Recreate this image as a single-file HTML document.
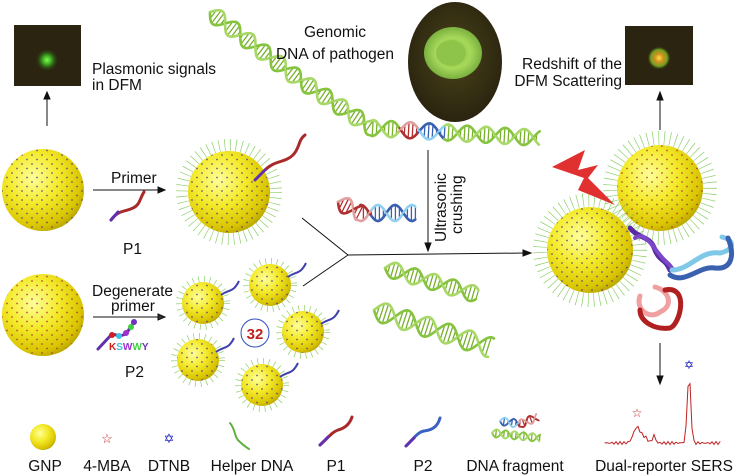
<!DOCTYPE html>
<html><head><meta charset="utf-8"><style>
html,body{margin:0;padding:0;background:#fff;}
svg{display:block;font-family:"Liberation Sans",Arial,sans-serif;}
</style></head><body>
<svg id="s" width="737" height="476" viewBox="0 0 737 476" xmlns="http://www.w3.org/2000/svg">
<defs>
<radialGradient id="gold" cx="0.38" cy="0.35" r="0.7">
<stop offset="0" stop-color="#ffff9a"/><stop offset="0.45" stop-color="#f4ea2a"/><stop offset="0.85" stop-color="#d9c400"/><stop offset="1" stop-color="#b8a400"/></radialGradient>
<pattern id="dotsB" width="10" height="9" patternUnits="userSpaceOnUse"><circle cx="2" cy="2" r="0.9" fill="#4a3b7a"/><circle cx="7" cy="6.5" r="0.9" fill="#4a3b7a"/></pattern>
<pattern id="dotsR" width="10" height="9" patternUnits="userSpaceOnUse"><circle cx="2" cy="2" r="0.9" fill="#a03030"/><circle cx="7" cy="6.5" r="0.9" fill="#a03030"/></pattern>
<radialGradient id="spotG" cx="0.5" cy="0.5" r="0.5"><stop offset="0" stop-color="#7dff50"/><stop offset="0.4" stop-color="#3aa020"/><stop offset="1" stop-color="#2a2410" stop-opacity="0"/></radialGradient>
<radialGradient id="spotY" cx="0.5" cy="0.5" r="0.5"><stop offset="0" stop-color="#ffe040"/><stop offset="0.35" stop-color="#d09020"/><stop offset="0.7" stop-color="#70a020"/><stop offset="1" stop-color="#2a2410" stop-opacity="0"/></radialGradient>
<radialGradient id="kiwi" cx="0.5" cy="0.45" r="0.55"><stop offset="0" stop-color="#4a4418"/><stop offset="1" stop-color="#2a2410"/></radialGradient>
<radialGradient id="kiwiIn" cx="0.5" cy="0.5" r="0.5"><stop offset="0" stop-color="#8ac040"/><stop offset="0.6" stop-color="#a6d85a"/><stop offset="1" stop-color="#7ab040"/></radialGradient>
</defs>
<g id="helices"></g>

<rect x="14" y="25" width="67" height="61" fill="#2a2410"/>
<circle cx="47" cy="60" r="12" fill="url(#spotG)"/>
<rect x="625" y="26" width="68" height="59" fill="#2a2410"/>
<circle cx="659" cy="58" r="12" fill="url(#spotY)"/>

<g font-size="15.5" fill="#111">
<text x="92" y="74">Plasmonic signals</text>
<text x="92" y="90">in DFM</text>
<text x="335" y="37" text-anchor="middle">Genomic</text>
<text x="335" y="59" text-anchor="middle">DNA of pathogen</text>
<text x="622" y="69" text-anchor="end">Redshift of the</text>
<text x="622" y="86" text-anchor="end">DFM Scattering</text>
<text x="111" y="183">Primer</text>
<text x="123" y="254">P1</text>
<text x="92" y="296">Degenerate</text>
<text x="111" y="311">primer</text>
<text x="125" y="377">P2</text>
<text transform="translate(446,242) rotate(-90)">Ultrasonic</text>
<text transform="translate(462,234) rotate(-90)">crushing</text>
<text x="45" y="471" text-anchor="middle">GNP</text>
<text x="107" y="471" text-anchor="middle">4-MBA</text>
<text x="169" y="471" text-anchor="middle">DTNB</text>
<text x="252" y="471" text-anchor="middle">Helper DNA</text>
<text x="336" y="471" text-anchor="middle">P1</text>
<text x="423" y="471" text-anchor="middle">P2</text>
<text x="515" y="471" text-anchor="middle">DNA fragment</text>
<text x="664" y="471" text-anchor="middle">Dual-reporter SERS</text>
</g>

<ellipse cx="455" cy="62" rx="47" ry="60" fill="url(#kiwi)"/>
<ellipse cx="453" cy="53" rx="29" ry="26" fill="url(#kiwiIn)"/>
<ellipse cx="451" cy="53" rx="15" ry="13" fill="#8fc44a"/>

<g stroke="#111" stroke-width="1" fill="#111">
<line x1="47" y1="126" x2="47" y2="97"/><path d="M44,99 L47,92 L50,99Z"/>
<line x1="93" y1="190" x2="160" y2="190"/><path d="M158,187 L165,190 L158,193Z"/>
<line x1="93" y1="317" x2="160" y2="317"/><path d="M158,314 L165,317 L158,320Z" fill="#333"/>
<line x1="302" y1="218" x2="348" y2="255" fill="none"/>
<line x1="303" y1="286" x2="348" y2="255" fill="none"/>
<line x1="348" y1="255" x2="525" y2="253"/><path d="M523,250 L531,253 L523,256Z"/>
<line x1="428" y1="150" x2="428" y2="244"/><path d="M425,243 L428,251 L431,243Z"/>
<line x1="660" y1="130" x2="660" y2="98"/><path d="M657,100 L660,92 L663,100Z"/>
<line x1="660" y1="343" x2="660" y2="377"/><path d="M657,376 L660,384 L663,376Z"/>
</g>

<circle cx="255" cy="333" r="14" fill="none" stroke="#3050c0" stroke-width="1"/>
<text x="255" y="339" font-size="15" font-weight="bold" fill="#c02020" text-anchor="middle">32</text>

<g id="spheres"></g>

<path d="M552,167 L585,150 L578,170 L598,165 L588,178 L615,205 L578,190 L584,178 Z" fill="#e03030"/>

<g fill="none" stroke-linecap="round">
<path d="M630,228 C640,240 650,235 655,250 C660,262 665,258 670,270" stroke="#5a2aa0" stroke-width="5"/>
<path d="M635,238 C645,230 655,250 660,255 C665,262 668,262 672,268" stroke="#7a48c8" stroke-width="4"/>
<path d="M672,270 C690,270 700,250 720,253 C735,250 735,240 722,237" stroke="#80c8e8" stroke-width="5"/>
<path d="M670,275 C685,285 700,265 715,268 C732,270 735,255 728,238" stroke="#3a60b0" stroke-width="5"/>
<path d="M640,296 C635,310 650,320 660,312 C675,305 668,290 655,287" stroke="#f0a0a0" stroke-width="5"/>
<path d="M665,290 C690,285 680,325 670,328 C655,330 640,322 640,310" stroke="#b02020" stroke-width="5"/>
</g>

<g fill="none" stroke-linecap="round">
<path d="M111,220 C118,210 125,212 133,208 C140,205 140,198 144,192" stroke="#a82a2a" stroke-width="3"/>
<path d="M111,220 L118,212" stroke="#6030b0" stroke-width="3"/>
<path d="M265,170 C275,160 285,163 293,155 C300,148 298,140 305,135" stroke="#a82a2a" stroke-width="3"/>
<path d="M255,180 L265,170" stroke="#6030b0" stroke-width="3"/>
<path d="M98,349 L112,334 L120,336 L126,334 L132,325 L134,322" stroke="#6030b0" stroke-width="3"/>
<circle cx="112" cy="335" r="3" fill="#d02020"/><circle cx="119" cy="336" r="3" fill="#40c0e0"/><circle cx="126" cy="333" r="3" fill="#a030d0"/><circle cx="131" cy="327" r="3" fill="#40d040"/><circle cx="134" cy="322" r="3" fill="#7030c0"/>
<text x="109" y="350" font-size="10" font-weight="bold"><tspan fill="#d02020">K</tspan><tspan fill="#40c0e0">S</tspan><tspan fill="#a030d0">W</tspan><tspan fill="#40d040">W</tspan><tspan fill="#7030c0">Y</tspan></text>
<path d="M230,423 C236,430 234,438 240,442 C244,446 246,447 249,449" stroke="#60b040" stroke-width="2"/>
<path d="M320,445 C328,438 332,432 338,430 C346,428 350,423 352,417" stroke="#a82a2a" stroke-width="3"/>
<path d="M320,445 L328,437" stroke="#6030b0" stroke-width="3"/>
<path d="M406,446 C414,438 418,432 424,431 C434,430 438,425 440,418" stroke="#3a60c0" stroke-width="3"/>
<path d="M406,446 L414,438" stroke="#6030b0" stroke-width="3"/>
<path id="spec" d="" stroke="#c02020" stroke-width="1"/>
</g>
<circle cx="43" cy="437" r="13" fill="url(#gold)"/>
<text x="107" y="443" font-size="13" fill="#c02020" text-anchor="middle">☆</text>
<text x="169" y="443" font-size="13" fill="#2020c0" text-anchor="middle">✡</text>
<text x="637" y="417" font-size="12" fill="#c02020" text-anchor="middle">☆</text>
<text x="689" y="369" font-size="12" fill="#2020c0" text-anchor="middle">✡</text>
</svg>
<script>
var NS="http://www.w3.org/2000/svg";
function el(p,t,a){var e=document.createElementNS(NS,t);for(var k in a)e.setAttribute(k,a[k]);p.appendChild(e);return e;}
var H=document.getElementById('helices');
function helix(pts,amp,per,segs,sw){
 sw=sw||2.5;
 var L=[],tot=0;for(var i=1;i<pts.length;i++){var d=Math.hypot(pts[i][0]-pts[i-1][0],pts[i][1]-pts[i-1][1]);L.push(d);tot+=d;}
 var s1=[],s2=[],cs=[],k=0;
 for(var s=0;s<=tot;s+=1){var acc=0,j=0;while(j<L.length-1&&acc+L[j]<s){acc+=L[j];j++;}
  var f=(s-acc)/L[j];var x=pts[j][0]+(pts[j+1][0]-pts[j][0])*f,y=pts[j][1]+(pts[j+1][1]-pts[j][1])*f;
  var ux=(pts[j+1][0]-pts[j][0])/L[j],uy=(pts[j+1][1]-pts[j][1])/L[j];var nx=-uy,ny=ux;
  var w=amp*Math.sin(2*Math.PI*s/per);
  var a=[x+nx*w,y+ny*w],b=[x-nx*w,y-ny*w];s1.push(a);s2.push(b);
  var c=segs(s/tot);cs.push(c);
  if(k%4==0&&Math.abs(w)>amp*0.3)el(H,'line',{x1:a[0],y1:a[1],x2:b[0],y2:b[1],stroke:c[1],'stroke-width':1.3});
  k++;
 }
 for(var i=1;i<s1.length;i++){var c=cs[i];
  el(H,'line',{x1:s1[i-1][0],y1:s1[i-1][1],x2:s1[i][0],y2:s1[i][1],stroke:c[0],'stroke-width':sw,'stroke-linecap':'round'});
  el(H,'line',{x1:s2[i-1][0],y1:s2[i-1][1],x2:s2[i][0],y2:s2[i][1],stroke:c[2]||c[0],'stroke-width':sw,'stroke-linecap':'round'});}
}
var G=function(){return ['#86c440','#7ab030','#a8d868'];};
helix([[210,12],[300,80],[372,128],[540,138]],8,38,function(t){
 if(t>0.62&&t<0.67)return['#b03030','#b03030','#e0a0a0']; if(t>0.67&&t<0.74)return['#3a60b0','#3a60b0','#90d0f0'];return G();});
helix([[338,202],[360,213],[416,213]],8,34,function(t){return t<0.45?['#b03030','#b03030','#e0a0a0']:['#3a60b0','#3a60b0','#90d0f0'];});
helix([[385,268],[478,295]],8,40,G);
helix([[374,310],[492,348]],10,44,G);
helix([[500,421],[520,424],[538,417]],4,18,function(t){return t<0.5?['#3a60b0','#3a60b0','#90d0f0']:['#b03030','#b03030','#e0a0a0'];},1.8);
helix([[492,433],[540,438]],4,18,G,1.8);
var S=document.getElementById('spheres');
function sphere(cx,cy,r,dots,hair){
 if(hair){el(S,'circle',{cx:cx,cy:cy,r:r+hair/2,fill:'none',stroke:'#7ac850','stroke-width':hair,'stroke-dasharray':'0.7 5',opacity:0.85});}
 el(S,'circle',{cx:cx,cy:cy,r:r,fill:'url(#gold)'});
 el(S,'circle',{cx:cx,cy:cy,r:r,fill:'url(#'+dots+')',opacity:0.8});
}
sphere(43,190,41,'dotsB',0);
sphere(229,192,41,'dotsB',12);
sphere(43,315,41,'dotsR',0);
[[203,303],[270,285],[303,332],[198,360],[262,385]].forEach(function(p){sphere(p[0],p[1],21,'dotsB',6);
 el(S,'path',{d:'M'+(p[0]+18)+','+(p[1]-8)+' C'+(p[0]+26)+','+(p[1]-14)+' '+(p[0]+30)+','+(p[1]-10)+' '+(p[0]+36)+','+(p[1]-22),fill:'none',stroke:'#4040b0','stroke-width':2});});
sphere(660,188,43,'dotsR',14);
sphere(590,250,43,'dotsB',14);
var d='M605,443';for(var x=606;x<=720;x+=2){var y=443+Math.sin(x*1.7)*1.5;
 y-=16*Math.exp(-Math.pow((x-637)/5,2))+8*Math.exp(-Math.pow((x-654)/2,2))+68*Math.exp(-Math.pow((x-689)/2.5,2))+5*Math.exp(-Math.pow((x-645)/4,2));d+=' L'+x+','+y.toFixed(1);}
document.getElementById('spec').setAttribute('d',d);
</script>
</body></html>
